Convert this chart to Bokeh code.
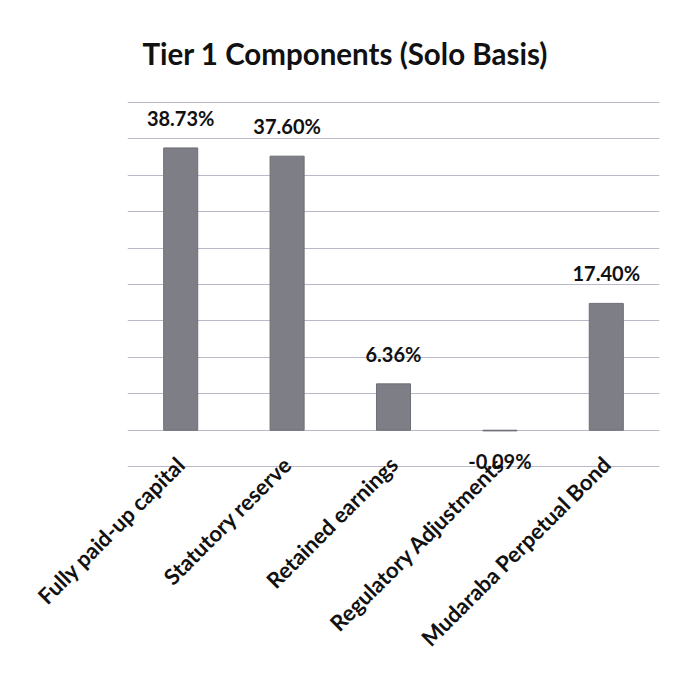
import math
from bokeh.plotting import figure
from bokeh.models import ColumnDataSource, LabelSet, Range1d, FixedTicker
from bokeh.core.properties import value
from bokeh.embed import file_html
from bokeh.resources import INLINE

categories = ["Fully paid-up capital", "Statutory reserve", "Retained earnings",
              "Regulatory Adjustments", "Mudaraba Perpetual Bond"]
values = [38.73, 37.60, 6.36, -0.09, 17.40]
value_labels = ["38.73%", "37.60%", "6.36%", "-0.09%", "17.40%"]
grid_ticks = [-5, 0, 5, 10, 15, 20, 25, 30, 35, 40, 45]

FONT = "Lato"

src = ColumnDataSource(dict(
    cat=categories, val=values, lab=value_labels,
    dy=[30 if v >= 0 else -30 for v in values],
))

p = figure(width=663, height=668, x_range=categories, y_range=Range1d(-5.8, 45.1),
           output_backend="svg", toolbar_location=None,
           title="Tier 1 Components (Solo Basis)",
           min_border_left=127, min_border_right=4, min_border_top=101, min_border_bottom=196)
p.outline_line_color = None
p.background_fill_color = "white"
p.border_fill_color = "white"

p.title.align = "left"
p.title.offset = 15
p.title.standoff = 61
p.title.text_font = FONT
p.title.text_font_style = "bold"
p.title.text_font_size = "29.5px"
p.title.text_color = "#111111"

p.vbar(x="cat", top="val", bottom=0, width=0.32, source=src,
       fill_color="#7e7e86", line_color="#6e6e76", line_width=1)

labels = LabelSet(x="cat", y="val", text="lab", source=src, y_offset="dy",
                  text_align="center", text_baseline="middle", text_font=value(FONT),
                  text_font_style="bold", text_font_size="20px", text_color="#111111")
p.add_layout(labels)

p.yaxis.visible = False
p.yaxis.ticker = FixedTicker(ticks=grid_ticks)
p.ygrid.ticker = FixedTicker(ticks=grid_ticks)
p.ygrid.grid_line_color = "#b9b9c9"
p.ygrid.grid_line_width = 1
p.xgrid.grid_line_color = None

ax = p.xaxis[0]
ax.axis_line_color = None
ax.major_tick_line_color = None
ax.minor_tick_line_color = None
ax.major_label_orientation = math.pi / 4
ax.major_label_text_font = FONT
ax.major_label_text_font_style = "bold"
ax.major_label_text_font_size = "22px"
ax.major_label_text_color = "#111111"
ax.major_label_standoff = -18

open("out.html", "w").write(file_html(p, INLINE))
